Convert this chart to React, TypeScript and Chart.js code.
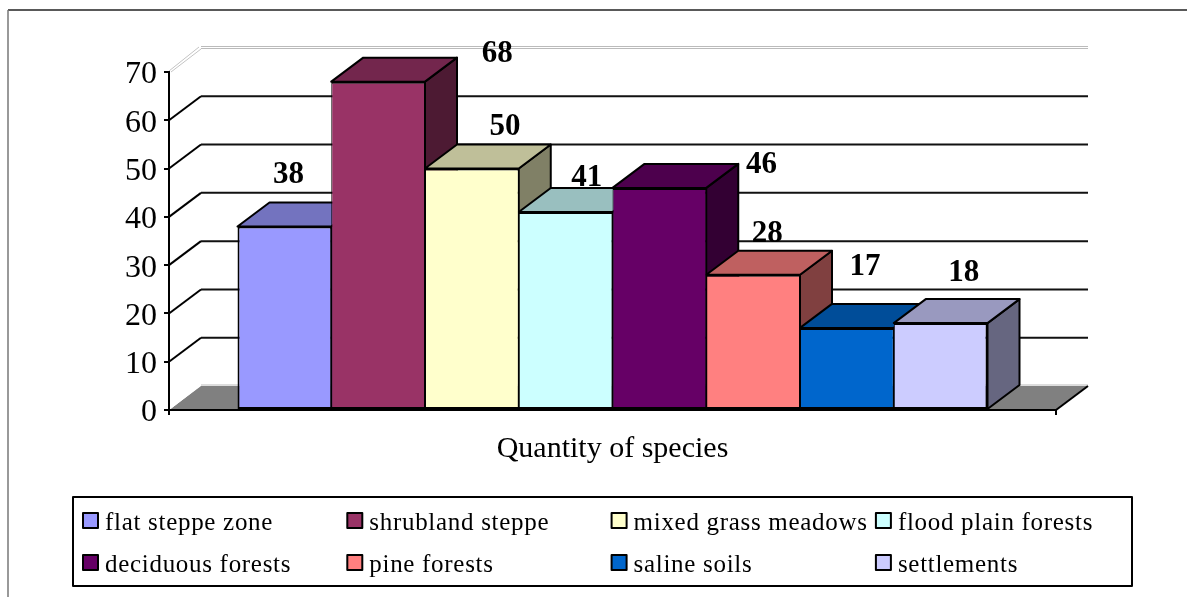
import React, { useEffect, useRef } from "react";
import { Chart, registerables } from "chart.js";

Chart.register(...registerables);

const axisCategory = ["Quantity of species"];
const seriesNames = [
  "flat steppe zone",
  "shrubland steppe",
  "mixed grass meadows",
  "flood plain forests",
  "deciduous forests",
  "pine forests",
  "saline soils",
  "settlements",
];
const seriesValues = [38, 68, 50, 41, 46, 28, 17, 18];
const seriesColors = ["#9999FF", "#993366", "#FFFFCC", "#CCFFFF", "#660066", "#FF8080", "#0066CC", "#CCCCFF"];
const labelShiftX = [4, 119, 33, 21, 102, 14, 18, 23];
const labelShiftY = [-51.5, -28, -42, -34, -23, -41, -61, -50];

const DX = 32;
const DY = -24;
const SERIF = "'Liberation Serif', serif";

function shade(hex: string, f: number) {
  const n = parseInt(hex.slice(1), 16);
  const r = Math.round(((n >> 16) & 255) * f);
  const g = Math.round(((n >> 8) & 255) * f);
  const b = Math.round((n & 255) * f);
  return `rgb(${r},${g},${b})`;
}

function poly(ctx: CanvasRenderingContext2D, pts: number[][], fill: string | null, stroke: string | null, lw = 2) {
  ctx.beginPath();
  pts.forEach((p, i) => (i ? ctx.lineTo(p[0], p[1]) : ctx.moveTo(p[0], p[1])));
  ctx.closePath();
  if (fill) {
    ctx.fillStyle = fill;
    ctx.fill();
  }
  if (stroke) {
    ctx.strokeStyle = stroke;
    ctx.lineWidth = lw;
    ctx.lineJoin = "round";
    ctx.stroke();
  }
}

function line(ctx: CanvasRenderingContext2D, x1: number, y1: number, x2: number, y2: number, color: string, lw: number) {
  ctx.beginPath();
  ctx.moveTo(x1, y1);
  ctx.lineTo(x2, y2);
  ctx.strokeStyle = color;
  ctx.lineWidth = lw;
  ctx.stroke();
}

const scene3d = {
  id: "scene3d",
  beforeDraw(chart: any) {
    const ctx: CanvasRenderingContext2D = chart.ctx;
    const { left, right } = chart.chartArea;
    const y = chart.scales.y;
    ctx.save();
    // outer frame
    line(ctx, 8, 10, chart.width, 10, "#222", 1.5);
    line(ctx, 8, 10, 8, chart.height, "#777", 1.5);
    // floor
    const y0 = y.getPixelForValue(0);
    poly(ctx, [[left, y0], [left + DX, y0 + DY], [right + DX, y0 + DY], [right, y0]], "#808080", null);
    line(ctx, left + 1, y0 - 1, left + DX, y0 + DY - 1, "#fff", 1);
    line(ctx, left + DX, y0 + DY - 1, right + DX, y0 + DY - 1, "#bbb", 1);
    line(ctx, right, y0, right + DX, y0 + DY, "#000", 2);
    // wall grid
    for (const t of y.ticks) {
      if (t.value === 0) continue;
      const py = y.getPixelForValue(t.value);
      if (t.value === y.max) {
        line(ctx, left, py - 1, left + DX - 2, py + DY - 1, "#c4c4c4", 1);
        line(ctx, left + 2, py, left + DX, py + DY + 1, "#c4c4c4", 1);
        line(ctx, left + DX, py + DY - 1.5, right + DX, py + DY - 1.5, "#bbb", 1.2);
        line(ctx, left + DX, py + DY + 0.5, right + DX, py + DY + 0.5, "#bbb", 1.2);
      } else {
        line(ctx, left, py, left + DX, py + DY, "#000", 2);
        line(ctx, left + DX, py + DY, right + DX, py + DY, "#111", 2);
      }
    }
    ctx.restore();
  },
  beforeDatasetsDraw(chart: any) {
    const ctx: CanvasRenderingContext2D = chart.ctx;
    ctx.save();
    chart.data.datasets.forEach((ds: any, i: number) => {
      const bar = chart.getDatasetMeta(i).data[0];
      const l = bar.x - bar.width / 2;
      const r = bar.x + bar.width / 2;
      const t = bar.y;
      const b = bar.base;
      poly(ctx, [[r, t], [r + DX, t + DY], [r + DX, b + DY], [r, b]], shade(ds.backgroundColor, 0.5), "#000");
      poly(ctx, [[l, t], [l + DX, t + DY], [r + DX, t + DY], [r, t]], shade(ds.backgroundColor, 0.75), "#000");
    });
    ctx.restore();
  },
  afterDatasetsDraw(chart: any) {
    const ctx: CanvasRenderingContext2D = chart.ctx;
    ctx.save();
    // data labels
    ctx.font = `bold 31px ${SERIF}`;
    ctx.fillStyle = "#000";
    ctx.textAlign = "center";
    ctx.textBaseline = "middle";
    chart.data.datasets.forEach((ds: any, i: number) => {
      const bar = chart.getDatasetMeta(i).data[0];
      ctx.fillText(String(ds.data[0]), bar.x + labelShiftX[i], bar.y + labelShiftY[i]);
    });
    // legend
    poly(ctx, [[73, 497], [1132, 497], [1132, 586], [73, 586]], "#fff", "#000", 2);
    ctx.font = `25px ${SERIF}`;
    (ctx as any).letterSpacing = "0.7px";
    ctx.textAlign = "left";
    chart.data.datasets.forEach((ds: any, i: number) => {
      const col = i % 4;
      const row = Math.floor(i / 4);
      const x = 83 + col * 264.3;
      const y = 513 + row * 42;
      poly(ctx, [[x, y], [x + 15, y], [x + 15, y + 15], [x, y + 15]], ds.backgroundColor, "#000", 2);
      ctx.fillStyle = "#000";
      ctx.fillText(ds.label, x + 22, y + 10);
    });
    ctx.restore();
  },
};

export default function App() {
  const ref = useRef<HTMLCanvasElement>(null);
  useEffect(() => {
    const chart = new Chart(ref.current as HTMLCanvasElement, {
      type: "bar",
      data: {
        labels: axisCategory,
        datasets: seriesNames.map((name, i) => ({
          label: name,
          data: [seriesValues[i]],
          backgroundColor: seriesColors[i],
          borderColor: "#000",
          borderWidth: { left: i === 0 ? 2 : 1, right: i === 7 ? 2 : 1, top: 2, bottom: 2 },
          borderSkipped: false,
          inflateAmount: 0,
          categoryPercentage: 750 / 887,
          barPercentage: 1,
        })),
      },
      plugins: [scene3d],
      options: {
        animation: false,
        responsive: false,
        events: [],
        layout: { padding: { left: 109, right: 131, top: 72, bottom: 127 } },
        plugins: { legend: { display: false }, tooltip: { enabled: false }, title: { display: false } },
        scales: {
          x: {
            border: { color: "#000", width: 2 },
            grid: { drawOnChartArea: false, drawTicks: true, tickLength: 5, tickColor: "#000", lineWidth: 2 },
            ticks: { color: "#000", font: { family: SERIF, size: 30 }, padding: 16, maxRotation: 0 },
            afterFit: (s: any) => {
              s.height = 60;
            },
          },
          y: {
            min: 0,
            max: 70,
            border: { color: "#000", width: 2 },
            grid: { drawOnChartArea: false, drawTicks: true, tickLength: 5, tickColor: "#000", lineWidth: 2 },
            ticks: { stepSize: 10, color: "#000", font: { family: SERIF, size: 32 }, padding: 7 },
            afterFit: (s: any) => {
              s.width = 60;
              if (!s.__patched) {
                s.__patched = true;
                const orig = s._computeLabelItems.bind(s);
                s._computeLabelItems = (area: any) => {
                  const items = orig(area);
                  items.forEach((it: any) => {
                    it.options.translation[1] += 3;
                  });
                  return items;
                };
              }
            },
          },
        },
      } as any,
    });
    return () => chart.destroy();
  }, []);
  return (
    <div style={{ position: "fixed", left: 0, top: 0, width: 1187, height: 597, background: "#fff" }}>
      <canvas ref={ref} width={1187} height={597} style={{ display: "block" }} />
    </div>
  );
}
